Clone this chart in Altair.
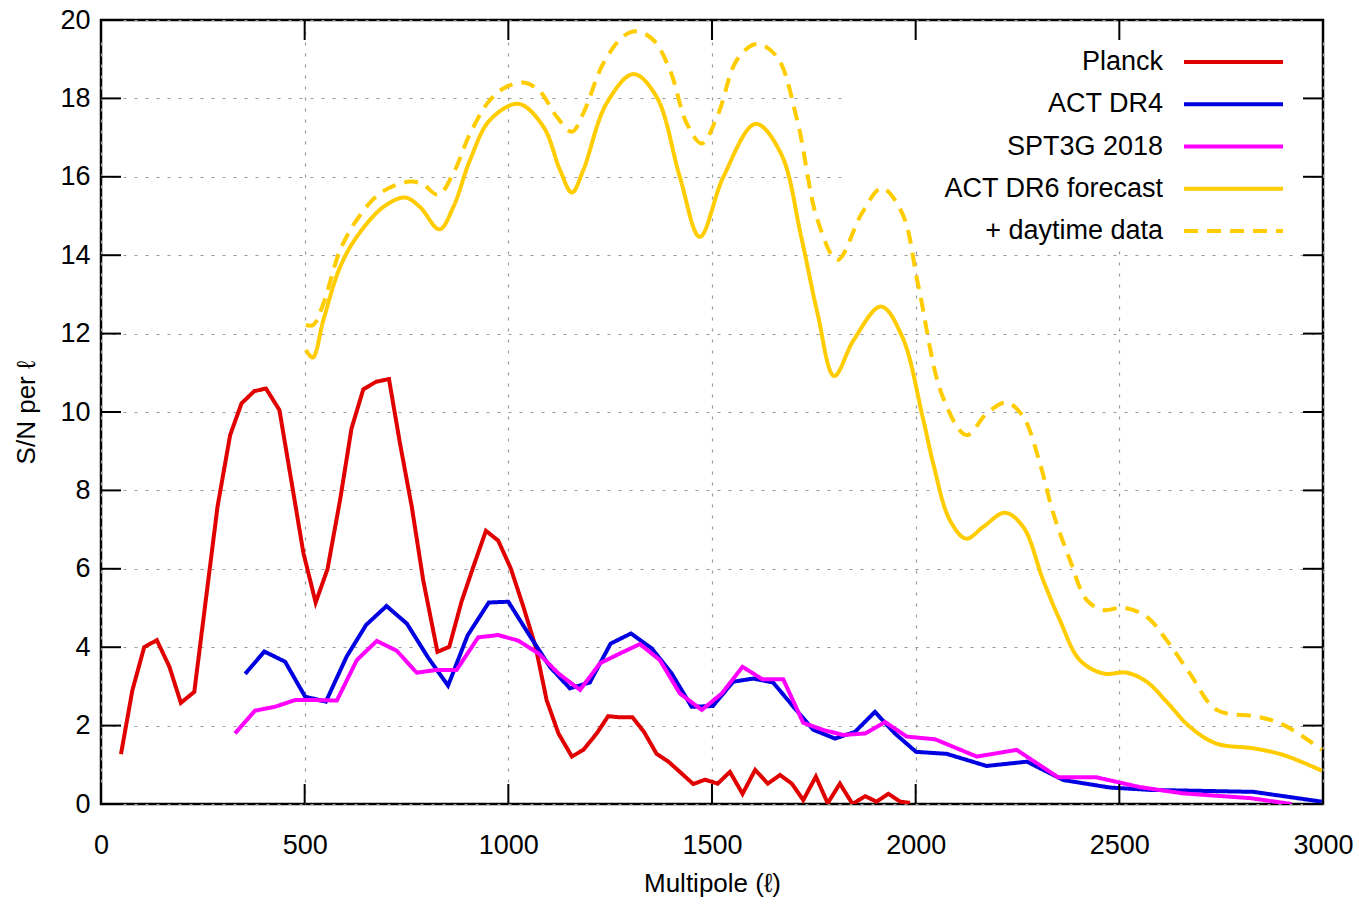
import altair as alt
import pandas as pd

FONT = "Liberation Sans"

# ---------------- data ----------------
planck_ell = [49, 77, 106, 137, 168, 196, 229, 286, 317, 345, 376, 405, 438, 468, 497,
              527, 556, 587, 615, 644, 675, 707, 734, 763, 791, 826, 855, 885, 914, 945,
              975, 1006, 1037, 1067, 1094, 1123, 1156, 1184, 1217, 1245, 1274, 1305, 1333,
              1364, 1393, 1421, 1454, 1483, 1514, 1544, 1575, 1606, 1637, 1667, 1696, 1724,
              1755, 1784, 1814, 1845, 1876, 1904, 1933, 1962, 1986]
planck_sn = [1.27, 2.9, 4.0, 4.18, 3.5, 2.58, 2.86, 7.58, 9.41, 10.22, 10.53, 10.6, 10.05, 8.2, 6.4,
             5.14, 5.99, 7.76, 9.58, 10.58, 10.77, 10.84, 9.2, 7.58, 5.71, 3.88, 4.01, 5.16, 6.05, 6.97,
             6.72, 6.01, 5.03, 4.01, 2.65, 1.80, 1.21, 1.38, 1.80, 2.24, 2.21, 2.21, 1.84,
             1.28, 1.08, 0.82, 0.51, 0.62, 0.52, 0.82, 0.26, 0.87, 0.52, 0.74, 0.52, 0.10,
             0.70, 0.02, 0.52, 0.0, 0.2, 0.06, 0.26, 0.06, 0.03]

actdr4_ell = [354, 401, 452, 501, 552, 603, 651, 701, 751, 804, 852, 900, 952, 1000, 1049,
              1102, 1151, 1200, 1251, 1301, 1352, 1401, 1450, 1502, 1552, 1601, 1650, 1700,
              1749, 1802, 1851, 1900, 1949, 2001, 2076, 2174, 2273, 2363, 2477, 2575, 2829, 2997]
actdr4_sn = [3.32, 3.89, 3.63, 2.74, 2.61, 3.76, 4.57, 5.05, 4.60, 3.72, 3.02, 4.3, 5.14, 5.16, 4.35,
             3.50, 2.95, 3.10, 4.09, 4.35, 3.97, 3.33, 2.48, 2.50, 3.12, 3.20, 3.10, 2.48,
             1.89, 1.67, 1.84, 2.35, 1.80, 1.33, 1.28, 0.97, 1.08, 0.61, 0.42, 0.36, 0.31, 0.06]

spt_ell = [329, 378, 427, 476, 530, 579, 628, 677, 726, 775, 824, 873, 926, 975, 1024, 1074,
           1123, 1176, 1225, 1274, 1323, 1372, 1421, 1475, 1524, 1575, 1624, 1675, 1724, 1773,
           1822, 1876, 1925, 1978, 2048, 2150, 2248, 2350, 2444, 2551, 2657, 2821, 2923]
spt_sn = [1.80, 2.38, 2.48, 2.65, 2.65, 2.64, 3.67, 4.16, 3.91, 3.35, 3.42, 3.42, 4.25, 4.31, 4.17, 3.84,
          3.33, 2.91, 3.59, 3.84, 4.08, 3.67, 2.82, 2.40, 2.82, 3.50, 3.18, 3.18, 2.07, 1.89,
          1.76, 1.80, 2.09, 1.72, 1.65, 1.21, 1.38, 0.68, 0.68, 0.43, 0.27, 0.15, 0.0]

dr6_ell = [503, 520, 546, 587, 628, 693, 746, 783, 831, 865, 906, 955, 1025, 1086, 1127, 1156,
           1184, 1241, 1307, 1364, 1421, 1470, 1528, 1607, 1669, 1719, 1759, 1800, 1848, 1915,
           1967, 2017, 2043, 2084, 2124, 2166, 2219, 2264, 2313, 2354, 2403, 2461, 2518, 2567,
           2616, 2673, 2739, 2829, 2903, 2997]
dr6_sn = [11.58, 11.39, 12.35, 13.7, 14.47, 15.23, 15.47, 15.23, 14.66, 15.23, 16.43, 17.45, 17.86,
          17.28, 16.17, 15.6, 16.17, 17.87, 18.62, 18.04, 16.0, 14.47, 16.0, 17.35, 16.6, 14.47,
          12.52, 10.92, 11.84, 12.69, 11.92, 9.88, 8.69, 7.24, 6.77, 7.07, 7.43, 7.07, 5.71, 4.69,
          3.67, 3.33, 3.35, 3.12, 2.61, 1.97, 1.54, 1.42, 1.25, 0.85]

day_ell = [503, 521, 546, 587, 628, 685, 759, 791, 828, 865, 906, 955, 996, 1041, 1078, 1119,
           1156, 1184, 1233, 1282, 1315, 1356, 1397, 1438, 1475, 1515, 1561, 1609, 1659, 1709,
           1759, 1808, 1868, 1917, 1967, 2007, 2066, 2125, 2174, 2223, 2264, 2305, 2338, 2379,
           2420, 2461, 2510, 2567, 2616, 2673, 2739, 2837, 2903, 2997]
day_sn = [12.22, 12.22, 12.77, 14.13, 14.9, 15.58, 15.88, 15.8, 15.54, 16.09, 17.1, 17.96, 18.3,
          18.4, 18.17, 17.53, 17.15, 17.62, 18.89, 19.58, 19.71, 19.49, 18.72, 17.36, 16.85,
          17.6, 18.98, 19.39, 19.07, 17.45, 14.9, 13.88, 15.07, 15.71, 15.07, 13.2, 10.4, 9.41,
          9.96, 10.24, 9.88, 8.69, 7.41, 6.22, 5.20, 4.95, 5.01, 4.78, 4.18, 3.33, 2.40, 2.23,
          2.02, 1.38]

series_names = ["Planck", "ACT DR4", "SPT3G 2018", "ACT DR6 forecast", "+ daytime data"]
series_colors = ["#e00000", "#0000e0", "#ff00ff", "#ffcc00", "#ffcc00"]
series_dash = [[1, 0], [1, 0], [1, 0], [1, 0], [14, 9]]

x_ticks = [0, 500, 1000, 1500, 2000, 2500, 3000]
y_ticks = [0, 2, 4, 6, 8, 10, 12, 14, 16, 18, 20]

W, H = 1222, 784


def frame(name, ell, sn):
    return pd.DataFrame({"series": name, "ell": ell, "sn": sn})


jagged = pd.concat([frame("Planck", planck_ell, planck_sn),
                    frame("ACT DR4", actdr4_ell, actdr4_sn),
                    frame("SPT3G 2018", spt_ell, spt_sn)], ignore_index=True)
smooth = pd.concat([frame("ACT DR6 forecast", dr6_ell, dr6_sn),
                    frame("+ daytime data", day_ell, day_sn)], ignore_index=True)

x_enc = alt.X("ell:Q", scale=alt.Scale(domain=[0, 3000], nice=False, zero=False),
              axis=alt.Axis(values=x_ticks, title="Multipole (ℓ)", grid=True, ticks=False,
                            domain=False, labelPadding=28, titlePadding=12,
                            labelFlush=False, format="d"))
y_enc = alt.Y("sn:Q", scale=alt.Scale(domain=[0, 20], nice=False),
              axis=alt.Axis(values=y_ticks, title="S/N per ℓ", grid=True, ticks=False,
                            domain=False, labelPadding=11, titlePadding=20,
                            labelFlush=False, format="d"))
color = alt.Color("series:N", scale=alt.Scale(domain=series_names, range=series_colors), legend=None)
dash = alt.StrokeDash("series:N", scale=alt.Scale(domain=series_names, range=series_dash), legend=None)
order_enc = alt.Order("ell:Q")

# white key box hiding the grid behind the key
key_box = alt.Chart(pd.DataFrame({"k": [0]})).mark_rect(color="white").encode(
    x=alt.value(741), x2=alt.value(1206), y=alt.value(2), y2=alt.value(226))

jag_lines = alt.Chart(jagged).mark_line(strokeWidth=4, strokeJoin="miter", clip=True).encode(
    x=x_enc, y=y_enc, color=color, strokeDash=dash, detail="series:N", order=order_enc)
smooth_lines = alt.Chart(smooth).mark_line(strokeWidth=4, interpolate="catmull-rom", clip=True).encode(
    x=x_enc, y=y_enc, color=color, strokeDash=dash, detail="series:N", order=order_enc)

xt = pd.DataFrame({"ell": x_ticks})
yt = pd.DataFrame({"sn": y_ticks})
tick_style = dict(color="black", strokeWidth=2)
t_bottom = alt.Chart(xt).mark_rule(**tick_style).encode(x=x_enc, y=alt.value(H), y2=alt.value(H - 20))
t_top = alt.Chart(xt).mark_rule(**tick_style).encode(x=x_enc, y=alt.value(0), y2=alt.value(20))
t_left = alt.Chart(yt).mark_rule(**tick_style).encode(y=y_enc, x=alt.value(0), x2=alt.value(20))
t_right = alt.Chart(yt).mark_rule(**tick_style).encode(y=y_enc, x=alt.value(W), x2=alt.value(W - 20))

plot = alt.layer(key_box, jag_lines, smooth_lines, t_bottom, t_top, t_left, t_right)

# key (label left of sample line, gnuplot style)
key_df = pd.DataFrame({"series": series_names})
key_y = alt.Y("series:N", sort=series_names,
              scale=alt.Scale(type="point", domain=series_names, range=[42, 211], padding=0),
              axis=None)
key_text = alt.Chart(key_df).mark_text(align="right", baseline="middle", fontSize=27,
                                       font=FONT, color="black").encode(
    x=alt.value(1062), y=key_y, text="series:N")
key_line = alt.Chart(key_df).mark_rule(strokeWidth=4).encode(
    x=alt.value(1083), x2=alt.value(1182), y=key_y, color=color, strokeDash=dash)
key = alt.layer(key_text, key_line)

chart = alt.layer(plot, key).resolve_scale(y="independent").properties(
    width=W, height=H,
    autosize=alt.AutoSizeParams(type="none"),
    padding={"left": 101, "top": 20, "right": 36, "bottom": 102},
    background="white",
).configure_view(stroke="black", strokeWidth=2.5).configure_axis(
    labelFont=FONT, titleFont=FONT, labelFontSize=27, titleFontSize=26,
    labelColor="black", titleColor="black", titleFontWeight="normal",
    gridColor="#9a9a9a", gridDash=[3, 8], gridWidth=1.2,
)

chart.save("out.html", embed_options={"renderer": "svg", "actions": False})
